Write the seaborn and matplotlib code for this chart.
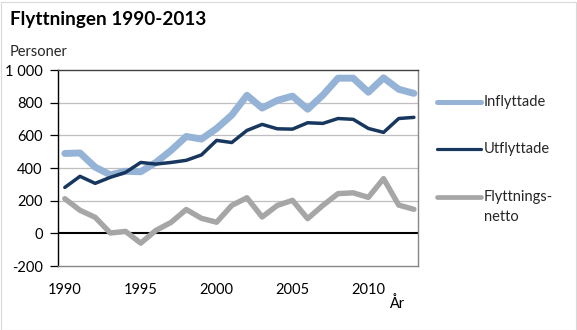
import matplotlib
matplotlib.use("Agg")
import matplotlib.pyplot as plt
import seaborn as sns
import pandas as pd
from matplotlib.lines import Line2D
from matplotlib.patches import Rectangle

years = list(range(1990, 2014))
inflyttade = [489, 492, 405, 358, 380, 377, 434, 508, 593, 577, 642, 724, 845, 767, 814, 840, 760, 846, 950, 950, 864, 952, 882, 857]
utflyttade = [281, 349, 306, 343, 373, 434, 424, 434, 447, 480, 569, 556, 630, 667, 640, 638, 677, 673, 703, 698, 642, 618, 703, 710]
netto = [212, 141, 98, 2, 12, -60, 18, 67, 146, 92, 68, 171, 218, 100, 171, 202, 90, 171, 243, 248, 220, 335, 173, 147]
series_names = ["Inflyttade", "Utflyttade", "Flyttnings-\nnetto"]
series_values = [inflyttade, utflyttade, netto]
colors = ["#95B3D7", "#17375E", "#A6A6A6"]
widths = [5.0, 2.5, 3.9]
legend_widths = [3.6, 2.3, 3.4]
x_ticks = [1990, 1995, 2000, 2005, 2010]
y_ticks = [-200, 0, 200, 400, 600, 800, 1000]
y_ticklabels = ["-200", "0", "200", "400", "600", "800", "1 000"]

sns.set_theme(style="white")
plt.rcParams["font.family"] = ["Lato", "DejaVu Sans"]

fig = plt.figure(figsize=(5.77, 3.30), dpi=100)
fig.patch.set_facecolor("white")
ax = fig.add_axes([58/577, 1-266/330, (418-58)/577, (266-70)/330])

for name, vals, c, w in zip(series_names, series_values, colors, widths):
    df = pd.DataFrame({"year": years, "value": vals})
    sns.lineplot(data=df, x="year", y="value", ax=ax, color=c, linewidth=w,
                 solid_capstyle="round", solid_joinstyle="round", legend=False)

ax.set_xlim(1989.55, 2013.27)
ax.set_ylim(-200, 1000)
ax.set_yticks(y_ticks)
ax.set_yticklabels(y_ticklabels)
ax.set_xticks(x_ticks)
ax.set_xticklabels([str(t) for t in x_ticks])
ax.set_xlabel("")
ax.set_ylabel("")
for yv in [200, 400, 600, 800]:
    ax.axhline(yv, color="#BFBFBF", lw=0.9, zorder=0)
ax.axhline(0, color="black", lw=1.5, zorder=1)

for s in ["top", "right", "bottom"]:
    ax.spines[s].set_color("#868686")
    ax.spines[s].set_linewidth(1.0)
ax.spines["top"].set_color("#404040")
ax.spines["left"].set_color("black")
ax.spines["left"].set_linewidth(1.0)
ax.tick_params(axis="y", which="both", left=True, length=5.5, width=0.9, color="black",
               pad=5.5, labelsize=10.5, labelcolor="black")
ax.tick_params(axis="x", which="both", bottom=False, pad=6, labelsize=10.5, labelcolor="black")

fig.text(10/577, 1-25/330, "Flyttningen 1990-2013", fontsize=13.6, fontweight="bold",
         ha="left", va="baseline", color="black")
fig.text(10/577, 1-56/330, "Personer", fontsize=10.5, ha="left", va="baseline", color="#262626")
fig.text(397/577, 1-304/330, "År", fontsize=10.5, ha="center", va="center", color="black")

# legend
leg_y = [102, 149, 197]
for name, c, w, yy in zip(series_names, colors, legend_widths, leg_y):
    fig.add_artist(Line2D([437/577, 481/577], [1-yy/330, 1-yy/330], color=c, lw=w,
                          solid_capstyle="round", transform=fig.transFigure))
    fig.text(484/577, 1-yy/330, name.split("\n")[0], fontsize=10.5, ha="left", va="center")
fig.text(484/577, 1-217/330, "netto", fontsize=10.5, ha="left", va="center")

fig.add_artist(Rectangle((0.5/577, 0.5/330), 575/577, 328/330, transform=fig.transFigure,
                         fill=False, edgecolor="#D9D9D9", lw=0.8))

fig.savefig("out.png", dpi=100)
